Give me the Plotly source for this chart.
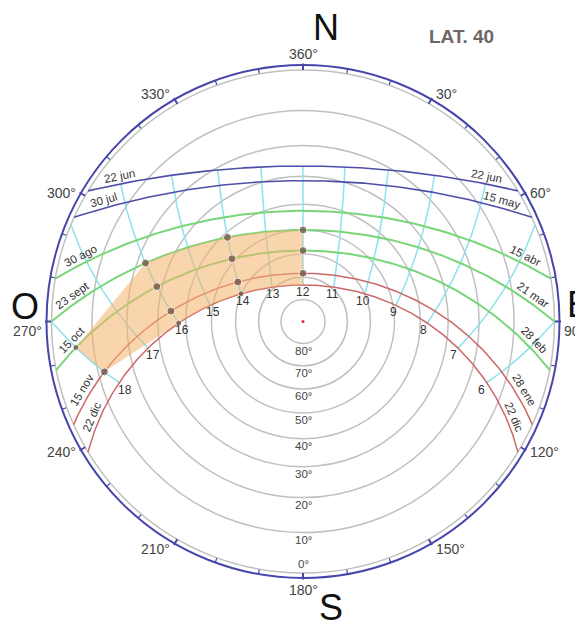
import numpy as np
import plotly.graph_objects as go

# ---------------- data ----------------
LAT = -40.0  # sun paths drawn with the sun at noon to the north
curve_label_right = ["22 jun", "15 may", "15 abr", "21 mar", "28 feb", "28 ene", "22 dic"]
curve_label_left = ["22 jun", "30 jul", "30 ago", "23 sept", "15 oct", "15 nov", "22 dic"]
curve_decl = [23.45, 18.5, 7.5, 0.0, -8.5, -18.3, -23.45]
curve_group = ["blue", "blue", "green", "green", "green", "red", "red"]

hour_marks = [6, 7, 8, 9, 10, 11, 12, 13, 14, 15, 16, 17, 18]
alt_rings = [0, 10, 20, 30, 40, 50, 60, 70, 80]
az_tick_deg = list(range(0, 360, 10))
az_label_deg = [0, 30, 60, 90, 120, 150, 180, 210, 240, 270, 300, 330]
az_label_text = ["360°", "30°", "60°", "90°", "120°", "150°", "180°", "210°", "240°", "270°", "300°", "330°"]

dot_hours = [12, 14, 16, 12, 14, 16, 12, 14, 16, 18, 14, 16, 18]
dot_decl = [0, 0, 0, -8.5, -8.5, -8.5, -18.3, -18.3, -18.3, -18.3, -23.45, -23.45, -8.5]
dot_big = [1, 1, 1, 1, 1, 1, 1, 1, 1, 1, 0, 0, 0]

shade_decl = [0, 0, -8.5, -18.3, -23.45, -23.45]
shade_hours = [12, 16, 18, 18, 16, 12]

# ---------------- geometry / style ----------------
PAGE_W, PAGE_H = 583, 624
BODY = 8  # default page margin around the plot div
CX, CY = 303.0, 321.5
R0 = 251.5
RB = 256.5
FONT = "Liberation Sans, Arial, sans-serif"
COL = {"blue": "rgb(78,78,168)", "green": "rgb(120,214,120)", "red": "rgb(205,104,104)"}
WID = {"blue": 1.6, "green": 2.0, "red": 1.5}


def sun(dec, hour):
    phi = np.radians(LAT)
    d = np.radians(dec)
    h = np.radians((np.asarray(hour, float) - 12.0) * 15.0)
    sa = np.sin(phi) * np.sin(d) + np.cos(phi) * np.cos(d) * np.cos(h)
    alt = np.degrees(np.arcsin(np.clip(sa, -1, 1)))
    az = np.degrees(np.arctan2(-np.cos(d) * np.sin(h),
                               np.sin(d) * np.cos(phi) - np.cos(d) * np.sin(phi) * np.cos(h)))
    return alt, az


def proj(alt, az):
    r = R0 * np.tan(np.radians(90.0 - np.asarray(alt, float)) / 2.0)
    a = np.radians(az)
    return CX + r * np.sin(a), CY - r * np.cos(a)


def ring_r(alt):
    return R0 * np.tan(np.radians(90.0 - alt) / 2.0)


def half_day(dec):
    v = -np.tan(np.radians(LAT)) * np.tan(np.radians(dec))
    return np.degrees(np.arccos(np.clip(v, -1, 1))) / 15.0


def curve_xy(dec, h0, h1, n=300):
    hs = np.linspace(h0, h1, n)
    alt, az = sun(np.full_like(hs, dec), hs)
    alt = np.maximum(alt, 0)
    return proj(alt, az)


fig = go.Figure()
shapes = []
annotations = []

# altitude rings
for a in alt_rings:
    r = ring_r(a)
    shapes.append(dict(type="circle", xref="x", yref="y", x0=CX - r, x1=CX + r, y0=CY - r, y1=CY + r,
                       line=dict(color="rgb(192,192,192)", width=1.5), layer="below"))
# outer azimuth ring + ticks
shapes.append(dict(type="circle", xref="x", yref="y", x0=CX - RB, x1=CX + RB, y0=CY - RB, y1=CY + RB,
                   line=dict(color="rgb(70,70,170)", width=2), layer="below"))
for t in az_tick_deg:
    a = np.radians(t)
    big = t % 30 == 0
    r1 = R0 + (0.5 if not big else 0)
    r2 = RB + (1.5 if big else 0)
    shapes.append(dict(type="line", xref="x", yref="y",
                       x0=CX + r1 * np.sin(a), y0=CY - r1 * np.cos(a),
                       x1=CX + r2 * np.sin(a), y1=CY - r2 * np.cos(a),
                       line=dict(color="rgb(70,70,170)", width=2 if big else 1.2), layer="below"))

# hour lines
phi = np.radians(LAT)
d_lo, d_hi = min(curve_decl), max(curve_decl)
for h in hour_marks:
    Hh = np.radians((h - 12) * 15)
    top = np.degrees(np.arctan(np.cos(Hh) / (-np.tan(phi))))
    top = min(d_hi, top)
    ds = np.linspace(d_lo, top, 120)
    alt, az = sun(ds, np.full_like(ds, h, dtype=float))
    alt = np.maximum(alt, 0)
    x, y = proj(alt, az)
    fig.add_trace(go.Scatter(x=x, y=y, mode="lines", line=dict(color="rgb(140,226,236)", width=1.5),
                             hoverinfo="skip", showlegend=False))


def label_along(xs, ys, from_end, s=32.0, off=8.0):
    if from_end:
        xs, ys = xs[::-1], ys[::-1]
    d = np.hypot(np.diff(xs), np.diff(ys))
    cum = np.concatenate([[0], np.cumsum(d)])
    i = int(np.clip(np.searchsorted(cum, s), 1, len(xs) - 2))
    px, py = xs[i], ys[i]
    tx, ty = xs[i + 1] - xs[i - 1], ys[i + 1] - ys[i - 1]
    ang = np.degrees(np.arctan2(ty, tx))
    if ang > 90:
        ang -= 180
    if ang < -90:
        ang += 180
    nx, ny = -ty, tx
    nn = np.hypot(nx, ny)
    nx, ny = nx / nn, ny / nn
    if nx * (px - CX) + ny * (py - CY) < 0:
        nx, ny = -nx, -ny
    return px + off * nx, py + off * ny, ang


# date curves
for dec, lr, ll, g in zip(curve_decl, curve_label_right, curve_label_left, curve_group):
    hd = half_day(dec)
    x, y = curve_xy(dec, 12 - hd, 12 + hd)
    fig.add_trace(go.Scatter(x=x, y=y, mode="lines", line=dict(color=COL[g], width=WID[g]),
                             hoverinfo="skip", showlegend=False))
    for txt, fe in ((lr, False), (ll, True)):
        lx, ly, ang = label_along(x, y, fe)
        annotations.append(dict(x=lx, y=ly, xref="x", yref="y", text=txt, showarrow=False,
                                textangle=ang, font=dict(family=FONT, size=11.5, color="#333")))

# shaded zone
sx, sy = [], []
for k in range(len(shade_decl)):
    d0, h0 = shade_decl[k], shade_hours[k]
    k2 = (k + 1) % len(shade_decl)
    d1, h1 = shade_decl[k2], shade_hours[k2]
    if d0 == d1:
        x, y = curve_xy(d0, h0, h1, 60)
    else:
        alt, az = sun(np.array([d0]), np.array([h0]))
        x, y = proj(np.maximum(alt, 0), az)
    sx.extend(list(x))
    sy.extend(list(y))
fig.add_trace(go.Scatter(x=sx, y=sy, mode="lines", fill="toself", fillcolor="rgba(244,178,108,0.55)",
                         line=dict(width=0), hoverinfo="skip", showlegend=False))

# dots
alt, az = sun(np.array(dot_decl, float), np.array(dot_hours, float))
dx, dy = proj(np.maximum(alt, 0), az)
fig.add_trace(go.Scatter(x=dx, y=dy, mode="markers",
                         marker=dict(color="rgb(104,74,62)", size=[8 if b else 6 for b in dot_big]),
                         hoverinfo="skip", showlegend=False))
# zenith
fig.add_trace(go.Scatter(x=[CX], y=[CY], mode="markers", marker=dict(color="rgb(220,40,60)", size=3),
                         hoverinfo="skip", showlegend=False))

# hour labels (below the 22 dic path)
alt, az = sun(np.full(len(hour_marks), d_lo), np.array(hour_marks, float))
hx, hy = proj(np.maximum(alt, 0), az)
for h, x, y in zip(hour_marks, hx, hy):
    annotations.append(dict(x=x + 0.03 * (CX - x), y=y + 7, xref="x", yref="y", text=str(h), showarrow=False,
                            font=dict(family=FONT, size=12, color="#333")))

# altitude labels
for a in alt_rings:
    yy = CY + ring_r(a) + 7 if a > 0 else CY + R0 - 9
    annotations.append(dict(x=CX, y=yy, xref="x", yref="y", text=f"{a}°", showarrow=False,
                            font=dict(family=FONT, size=11.5, color="#444")))

# azimuth labels
for t, txt in zip(az_label_deg, az_label_text):
    a = np.radians(t)
    tx, ty = CX + RB * np.sin(a), CY - RB * np.cos(a)
    if t == 0:
        ax_, xa, yy = tx, "center", ty - 11
    elif t == 180:
        ax_, xa, yy = tx, "center", ty + 12
    elif t == 90:
        ax_, xa, yy = tx + 2.5, "left", ty + 9
    elif t == 270:
        ax_, xa, yy = tx - 2.5, "right", ty + 9
    elif t < 180:
        ax_, xa = tx + 2.5, "left"
        yy = ty + (-5 if t == 30 else (0 if t == 60 else (2 if t == 120 else 5)))
    else:
        ax_, xa = tx - 2.5, "right"
        yy = ty + (-5 if t == 330 else (0 if t == 300 else (2 if t == 240 else 5)))
    annotations.append(dict(x=ax_, y=yy, xref="x", yref="y", text=txt, showarrow=False, xanchor=xa,
                            font=dict(family=FONT, size=14, color="#444")))

# cardinal letters
for txt, x, y, xa in (("N", 326, 27, "center"), ("S", 331, 607, "center"),
                      ("O", 25, 306, "center"), ("E", 565, 304, "left")):
    annotations.append(dict(x=x, y=y, xref="x", yref="y", text=txt, showarrow=False, xanchor=xa,
                            font=dict(family=FONT, size=36, color="#111")))

annotations.append(dict(x=461, y=36, xref="x", yref="y", text="<b>LAT. 40</b>", showarrow=False,
                        font=dict(family=FONT, size=19, color="rgb(112,102,102)")))

# the plot div sits inside the page's default 8px margin: map data coords to page pixels
fig.update_layout(
    width=PAGE_W - BODY, height=PAGE_H - BODY, margin=dict(l=0, r=0, t=0, b=0),
    paper_bgcolor="white", plot_bgcolor="white",
    xaxis=dict(range=[BODY, PAGE_W], visible=False, fixedrange=True),
    yaxis=dict(range=[PAGE_H, BODY], visible=False, fixedrange=True),
    shapes=shapes, annotations=annotations, showlegend=False,
)
fig.write_html("out.html")
